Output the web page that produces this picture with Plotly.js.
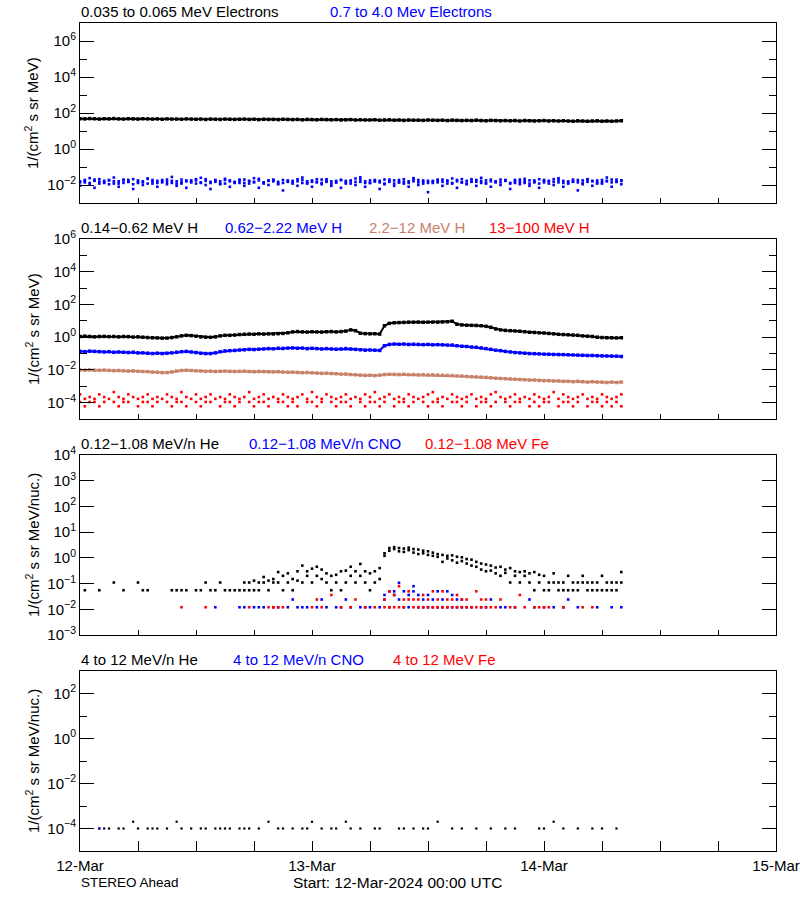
<!DOCTYPE html>
<html>
<head>
<meta charset="utf-8">
<script src="https://cdn.plot.ly/plotly-3.0.1.min.js"></script>
<style>html,body{margin:0;padding:0;background:#fff;}#chart{width:800px;height:900px;}</style>
</head>
<body>
<div id="chart"></div>
<script>
// ---- time grid: 30-minute samples starting 12-Mar-2024 00:00 UTC ----
const startTime = Date.UTC(2024, 2, 12, 0, 0, 0);
const stepMinutes = 30;
const rangeStart = '2024-03-12 00:00';
const rangeEnd = '2024-03-15 00:00';
const n = null;

// ---- Panel 1: electrons ----
const elecLow = [48,47,49,48,46,48,47,49,47,46,48,47,46,48,47,46,47,45,47,46,
 46,45,47,46,45,46,44,46,45,44,46,45,44,45,46,44,45,43,45,44,
 44,43,45,44,43,44,42,44,43,42,44,43,42,43,41,42,43,41,42,41,
 41,42,40,41,42,40,41,39,41,40,40,39,41,40,39,40,38,40,39,38,
 39,38,40,38,37,39,38,37,38,37,38,36,38,37,36,37,38,36,37,36,
 37,36,35,37,36,35,36,37,35,36,35,36,37];
const elecHighA = [0.016,0.019,0.013,0.017,0.021,0.014,0.018,0.012,0.016,0.02,
 0.015,0.011,0.018,0.014,0.022,0.016,0.013,0.019,0.015,0.017,
 0.012,0.02,0.016,0.014,0.018,0.013,0.021,0.015,0.017,0.012,
 0.019,0.016,0.014,0.02,0.013,0.017,0.015,0.022,0.014,0.018,
 0.016,0.012,0.019,0.015,0.017,0.021,0.013,0.016,0.018,0.014,
 0.02,0.015,0.012,0.017,0.019,0.014,0.016,0.023,0.015,0.013,
 0.018,0.016,0.014,0.02,0.017,0.012,0.019,0.015,0.016,0.021,
 0.014,0.018,0.013,0.017,0.02,0.015,0.016,0.012,0.019,0.014,
 0.017,0.021,0.015,0.013,0.018,0.016,0.014,0.02,0.017,0.013,
 0.019,0.015,0.016,0.012,0.018,0.021,0.014,0.017,0.015,0.019,
 0.013,0.016,0.02,0.014,0.018,0.015,0.017,0.012,0.019,0.016,
 0.014,0.02,0.017];
const elecHighB = [0.009,0.014,0.024,0.007,0.012,0.017,0.011,0.026,0.008,0.013,
 0.019,0.006,0.015,0.01,0.023,0.012,0.008,0.016,0.011,0.028,
 0.009,0.014,0.007,0.018,0.012,0.025,0.01,0.006,0.015,0.011,
 0.022,0.008,0.013,0.017,0.009,0.012,0.024,0.007,0.014,0.01,
 0.018,0.011,0.005,0.016,0.012,0.009,0.026,0.013,0.008,0.015,
 0.011,0.021,0.009,0.014,0.007,0.017,0.012,0.01,0.027,0.008,
 0.013,0.016,0.006,0.011,0.02,0.009,0.014,0.012,0.008,0.024,
 0.01,0.015,0.004,0.013,0.018,0.009,0.012,0.023,0.007,0.014,
 0.011,0.016,0.009,0.025,0.012,0.008,0.015,0.01,0.019,0.006,
 0.013,0.011,0.022,0.009,0.014,0.007,0.017,0.012,0.01,0.024,
 0.008,0.013,0.016,0.005,0.011,0.021,0.009,0.014,0.012,0.026,
 0.008,0.015,0.011];
const elecHighC = [0.014,0.017,0.011,0.02,0.015,0.013,0.019,0.016,0.012,0.018,
 0.015,0.021,0.013,0.016,0.012,0.019,0.017,0.014,0.02,0.013,
 0.016,0.012,0.018,0.015,0.021,0.014,0.017,0.013,0.019,0.016,
 0.012,0.018,0.015,0.013,0.02,0.016,0.014,0.018,0.012,0.017,
 0.02,0.015,0.013,0.018,0.014,0.016,0.019,0.012,0.015,0.021,
 0.013,0.017,0.016,0.014,0.019,0.012,0.018,0.015,0.02,0.016,
 0.013,0.019,0.017,0.012,0.015,0.018,0.014,0.021,0.013,0.016,
 0.019,0.012,0.017,0.015,0.014,0.02,0.018,0.013,0.016,0.021,
 0.012,0.015,0.019,0.017,0.013,0.02,0.016,0.014,0.018,0.012,
 0.016,0.02,0.013,0.018,0.015,0.012,0.019,0.016,0.021,0.014,
 0.017,0.012,0.015,0.019,0.013,0.02,0.016,0.018,0.014,0.017,
 0.02,0.015,0.018];

// ---- Panel 2: protons ----
const protonLow = [1.1,1.15,1.1,1.05,1.1,1.12,1.08,1.1,1.05,1.1,1.08,1.02,1.05,1.0,0.95,0.92,0.9,
 0.87,0.88,0.95,1.05, 1.2,1.3,1.25,1.15, 1.05,1.0,0.98,1.05, 1.2,1.3,1.3,1.35,
 1.45,1.5,1.55,1.5,1.6,1.55,1.6,1.58,1.65,1.7,1.85,
 2.1,2.2,2.1,2.05,2.15,2.1,2.05,2.15,2.2,2.1,2.2,2.35,
 2.8,2.5, 1.75,1.65,1.6,1.62,1.55, 5.0, 7.0,7.6,7.8,8.0,8.3,
 8.3,8.4,8.2,8.3,8.4,8.3,8.5,8.8, 9.4,6.2, 5.6,5.4,5.3,5.2,5.0,4.6,
 4.0,3.2,2.8, 2.6,2.5,2.4,2.3,2.15, 2.0,1.95,1.85,1.8,1.7,1.6,1.5,1.45,
 1.4,1.35,1.3,1.2,1.15,1.1, 1.0,0.95,0.93,0.92,0.9,0.93];
const protonMid = [0.14,0.13,0.14,0.135,0.13,0.125,0.13,0.12,0.125,0.12,0.115,0.12,0.11,0.11,0.105,0.1,0.105,
 0.1,0.105,0.11,0.12, 0.13,0.135,0.125,0.115, 0.105,0.1,0.1,0.11, 0.13,0.145,0.15,0.155,
 0.165,0.17,0.18,0.175,0.185,0.19,0.2,0.195,0.21,0.205,0.215,
 0.22,0.21,0.215,0.2,0.21,0.2,0.19,0.2,0.19,0.185,0.19,0.2,
 0.19,0.18, 0.17,0.16,0.165,0.16,0.155, 0.3, 0.36,0.38,0.37,0.38,0.36,
 0.37,0.36,0.35,0.36,0.34,0.35,0.34,0.33, 0.33,0.3, 0.28,0.27,0.25,0.24,0.22,0.2,
 0.18,0.16,0.15, 0.135,0.125,0.115,0.11,0.105, 0.1,0.098,0.095,0.092,0.09,0.088,0.087,0.086,
 0.084,0.082,0.08,0.078,0.076,0.076, 0.074,0.072,0.071,0.07,0.069,0.066];
const protonHigh = [0.0098,0.0095,0.01,0.0096,0.0094,0.0097,0.0093,0.009,0.0092,0.0088,0.0085,0.0087,0.0082,0.008,0.0078,0.0074,0.0072,
 0.0068,0.0069,0.0075,0.0085, 0.0092,0.0095,0.0092,0.0088, 0.0085,0.0082,0.0084,0.008, 0.0083,0.0085,0.0082,0.008,
 0.0082,0.0084,0.008,0.0078,0.0081,0.0079,0.0077,0.0076,0.0078,0.0074,0.0072,
 0.0073,0.007,0.0068,0.007,0.0066,0.0064,0.0062,0.0063,0.006,0.0058,0.0055,0.0056,
 0.0052,0.005, 0.0048,0.0046,0.0047,0.0045,0.0048, 0.0052,0.0054,0.0053,0.0052,0.0054,0.0051,
 0.0052,0.005,0.0051,0.0049,0.005,0.0048,0.0047,0.0046, 0.0045,0.0043,0.0042,0.004,0.0038,0.0037,0.0036,0.0035,
 0.0033,0.0031,0.003,0.0029,0.0028,0.0027,0.0026,0.0025, 0.0024,0.0024,0.0023,0.0022,0.0022,0.0021,0.0021,0.002,
 0.002,0.0019,0.002,0.0019,0.0018,0.0019, 0.0018,0.0018,0.0017,0.0018,0.0017,0.0018];
const protonTopA = [3.2e-4,1.7e-4,2.2e-4,1.7e-4,3.2e-4,2.2e-4,1.7e-4,4.4e-4,2.2e-4,1.7e-4,
 3.2e-4,2.2e-4,1.7e-4,2.2e-4,3.2e-4,1.7e-4,2.2e-4,1.7e-4,3.2e-4,2.2e-4,
 1.7e-4,4.4e-4,2.2e-4,1.7e-4,3.2e-4,1.7e-4,2.2e-4,3.2e-4,1.7e-4,2.2e-4,
 1.7e-4,3.2e-4,2.2e-4,1.7e-4,2.2e-4,4.4e-4,1.7e-4,2.2e-4,3.2e-4,1.7e-4,
 2.2e-4,1.7e-4,3.2e-4,2.2e-4,1.7e-4,2.2e-4,3.2e-4,1.7e-4,4.4e-4,2.2e-4,
 1.7e-4,3.2e-4,2.2e-4,1.7e-4,2.2e-4,3.2e-4,1.7e-4,2.2e-4,1.7e-4,3.2e-4,
 2.2e-4,4.4e-4,1.7e-4,2.2e-4,3.2e-4,1.7e-4,2.2e-4,1.7e-4,3.2e-4,2.2e-4,
 1.7e-4,2.2e-4,3.2e-4,4.4e-4,1.7e-4,2.2e-4,1.7e-4,3.2e-4,2.2e-4,1.7e-4,
 2.2e-4,3.2e-4,1.7e-4,2.2e-4,1.7e-4,3.2e-4,4.4e-4,2.2e-4,1.7e-4,2.2e-4,
 3.2e-4,1.7e-4,2.2e-4,1.7e-4,3.2e-4,2.2e-4,1.7e-4,2.2e-4,4.4e-4,1.7e-4,
 3.2e-4,2.2e-4,1.7e-4,2.2e-4,3.2e-4,1.7e-4,2.2e-4,1.7e-4,3.2e-4,2.2e-4,
 1.7e-4,2.2e-4,3.2e-4];
const protonTopB = [1.1e-4,6e-5,1.1e-4,1.1e-4,6e-5,1.1e-4,n,1.1e-4,6e-5,1.1e-4,
 1.1e-4,n,6e-5,1.1e-4,1.1e-4,6e-5,1.1e-4,n,1.1e-4,6e-5,
 1.1e-4,1.1e-4,6e-5,n,1.1e-4,6e-5,1.1e-4,1.1e-4,n,6e-5,
 1.1e-4,1.1e-4,6e-5,1.1e-4,n,1.1e-4,6e-5,1.1e-4,1.1e-4,6e-5,
 n,1.1e-4,1.1e-4,6e-5,1.1e-4,6e-5,n,1.1e-4,1.1e-4,6e-5,
 1.1e-4,n,1.1e-4,6e-5,1.1e-4,1.1e-4,6e-5,n,1.1e-4,6e-5,
 1.1e-4,1.1e-4,6e-5,1.1e-4,n,6e-5,1.1e-4,1.1e-4,6e-5,1.1e-4,
 n,1.1e-4,6e-5,1.1e-4,1.1e-4,6e-5,n,1.1e-4,1.1e-4,6e-5,
 1.1e-4,n,6e-5,1.1e-4,1.1e-4,6e-5,1.1e-4,n,1.1e-4,6e-5,
 1.1e-4,1.1e-4,n,6e-5,1.1e-4,6e-5,1.1e-4,1.1e-4,n,6e-5,
 1.1e-4,1.1e-4,6e-5,1.1e-4,n,6e-5,1.1e-4,1.1e-4,6e-5,1.1e-4,
 6e-5,1.1e-4,6e-5];

// ---- Panel 3: 0.12-1.08 MeV/n heavy ions ----
const heLowA = [n,0.055,n,n,0.055,n,n,0.11,n,0.055,
 n,n,0.11,0.055,0.055,n,n,n,n,0.055,
 0.055,0.055,0.055,n,0.055,0.055,0.11,0.055,0.055,0.11,
 0.055,0.055,0.055,0.055,0.055,0.11,0.13,0.11,0.18,0.13,
 0.15,0.28,0.2,0.25,0.15,0.3,0.5,0.3,0.38,0.45,
 0.35,0.25,0.2,0.22,0.3,0.32,0.45,0.3,0.58,0.3,
 0.25,0.3,0.4,1.5,2.4,2.6,2.4,2.3,2.5,2.2,
 2.1,1.9,1.8,1.6,1.4,1.3,1.2,1.25,1.1,1.05,
 0.9,0.85,0.7,0.6,0.55,0.5,0.42,0.45,0.35,0.4,
 0.3,0.28,0.3,0.25,0.28,0.22,0.2,0.11,0.25,0.11,
 0.11,0.2,0.11,0.11,0.2,0.11,0.11,0.11,0.2,0.11,
 0.11,0.11,0.11];
const heLowB = [n,n,n,n,n,n,n,n,n,n,
 n,n,n,n,n,n,n,n,n,n,
 n,n,n,n,n,n,n,n,n,n,
 n,n,n,n,0.11,0.055,0.055,0.055,0.11,0.055,
 0.11,0.11,0.055,0.11,0.055,0.13,0.11,0.2,0.11,0.2,
 0.15,0.11,0.055,0.11,0.055,0.11,0.2,0.11,0.2,0.11,
 0.055,0.11,0.15,1.2,1.9,2.2,1.8,1.7,2.0,1.6,
 1.4,1.5,1.3,1.2,1.1,0.7,0.95,0.8,0.65,0.75,
 0.6,0.5,0.45,0.35,0.3,0.32,0.25,0.2,0.26,0.11,
 0.2,0.11,0.2,0.11,0.055,0.11,0.055,0.055,0.11,0.055,
 0.055,0.055,0.055,0.055,0.11,0.055,0.055,0.055,0.055,0.055,
 0.055,0.055,0.28];
const cnoLowA = [n,n,n,n,n,n,n,n,n,n,
 n,n,n,n,n,n,n,n,n,n,
 n,n,n,n,n,n,n,n,0.012,n,
 n,n,n,0.012,0.012,n,0.012,0.012,0.012,n,
 0.012,0.012,n,0.012,0.024,0.012,0.012,0.012,n,0.012,
 0.024,0.012,n,0.012,0.012,0.024,0.012,n,0.012,0.012,
 0.012,n,0.012,0.036,0.05,0.036,0.107,0.05,0.036,0.079,
 0.036,0.024,0.012,0.024,0.012,0.024,0.05,0.036,0.024,0.012,
 0.012,0.012,n,0.012,0.012,0.024,n,0.012,0.012,n,
 0.012,n,n,0.024,0.012,n,0.012,n,0.012,n,
 0.012,0.024,n,0.012,n,n,n,0.012,n,n,
 0.012,n,0.012];
const cnoLowB = [n,n,n,n,n,n,n,n,n,n,
 n,n,n,n,n,n,n,n,n,n,
 n,n,n,n,n,n,n,n,n,n,
 n,n,n,n,n,n,n,n,n,n,
 n,n,n,n,n,n,n,n,n,n,
 n,n,n,n,n,n,n,n,n,n,
 n,n,n,0.024,0.012,0.05,0.024,0.012,0.012,0.05,
 0.012,0.012,0.036,0.012,0.05,0.012,0.012,0.012,0.012,0.024];
const feLowA = [n,n,n,n,n,n,n,n,n,n,
 n,n,n,n,n,n,n,n,n,n,
 n,0.012,n,n,n,n,0.012,n,n,n,
 n,n,n,n,n,0.012,n,n,n,0.012,
 0.012,0.012,0.012,n,n,n,n,n,0.012,0.024,
 0.012,n,0.036,n,0.012,n,0.012,0.024,n,0.012,
 n,0.012,n,0.024,0.05,0.012,0.079,0.024,0.05,0.012,
 0.024,0.036,0.012,0.05,0.024,0.012,0.024,0.012,0.036,0.024,
 0.012,0.012,0.05,0.012,0.024,0.012,0.012,0.024,n,0.012,
 0.012,0.036,0.012,n,0.012,0.012,0.012,0.012,n,n,
 0.012,n,n,n,0.012,n,0.012];
const feLowB = [n,n,n,n,n,n,n,n,n,n,
 n,n,n,n,n,n,n,n,n,n,
 n,n,n,n,n,n,n,n,n,n,
 n,n,n,n,n,n,n,n,n,n,
 n,n,n,n,n,n,n,n,n,n,
 n,n,n,n,n,n,n,n,n,n,
 n,n,n,0.012,0.012,0.036,0.012,0.012,0.024,0.024,
 0.012,0.012,0.024,0.012,0.012,0.05,0.012,0.024,0.012,0.012,
 0.024,n,0.012,0.024,0.012];

// ---- Panel 4: 4-12 MeV/n heavy ions ----
const heHigh = [n,n,n,n,1e-4,1e-4,1e-4,n,1e-4,1e-4,
 n,2e-4,1e-4,n,1e-4,1e-4,1e-4,n,1e-4,n,
 2e-4,1e-4,n,1e-4,n,1e-4,1e-4,n,1e-4,1e-4,
 1e-4,1e-4,n,1e-4,1e-4,1e-4,n,1e-4,n,2e-4,
 n,1e-4,1e-4,n,1e-4,n,1e-4,1e-4,2e-4,n,
 1e-4,n,1e-4,1e-4,n,2e-4,1e-4,n,1e-4,n,
 n,1e-4,1e-4,n,n,n,1e-4,1e-4,n,1e-4,
 n,1e-4,1e-4,n,2e-4,n,n,1e-4,n,1e-4,
 n,n,1e-4,n,n,1e-4,n,n,1e-4,n,
 1e-4,n,n,n,n,1e-4,1e-4,n,2e-4,n,
 1e-4,n,n,1e-4,n,n,1e-4,n,1e-4,n,
 n,1e-4,n];
const cnoHigh = [n,n,n,n,1e-4];
const feHigh = [];

// ---- tick labels ----
const tickVals1 = [1e-2, 1, 1e2, 1e4, 1e6];
const tickText1 = ['10<sup>−2</sup>','10<sup>0</sup>','10<sup>2</sup>','10<sup>4</sup>','10<sup>6</sup>'];
const minorVals1 = [1e-1, 1e1, 1e3, 1e5];
const tickVals2 = [1e-4, 1e-2, 1, 1e2, 1e4, 1e6];
const tickText2 = ['10<sup>−4</sup>','10<sup>−2</sup>','10<sup>0</sup>','10<sup>2</sup>','10<sup>4</sup>','10<sup>6</sup>'];
const minorVals2 = [1e-3, 1e-1, 1e1, 1e3, 1e5];
const tickVals3 = [1e-3, 1e-2, 1e-1, 1, 1e1, 1e2, 1e3, 1e4];
const tickText3 = ['10<sup>−3</sup>','10<sup>−2</sup>','10<sup>−1</sup>','10<sup>0</sup>','10<sup>1</sup>','10<sup>2</sup>','10<sup>3</sup>','10<sup>4</sup>'];
const tickVals4 = [1e-4, 1e-2, 1, 1e2];
const tickText4 = ['10<sup>−4</sup>','10<sup>−2</sup>','10<sup>0</sup>','10<sup>2</sup>'];
const minorVals4 = [1e-3, 1e-1, 1e1];

// ---- colours ----
const BLACK = '#000000', BLUE = '#0000ff', BROWN = '#c8826a', RED = '#ff0000';
const FONT = 'Liberation Sans, Arial, sans-serif';

function timesFor(vals) { return vals.map((v, i) => startTime + i * stepMinutes * 60000); }
function axisRef(k) { return k === 1 ? '' : String(k); }
function lineTrace(vals, color, k) {
  return {x: timesFor(vals), y: vals, type: 'scatter', mode: 'lines+markers', connectgaps: false,
    line: {color: color, width: 2},
    marker: {color: color, size: 3.5, symbol: 'square', line: {width: 0}},
    xaxis: 'x' + axisRef(k), yaxis: 'y' + axisRef(k), hoverinfo: 'skip'};
}
function dotTrace(vals, color, k, size) {
  return {x: timesFor(vals), y: vals, type: 'scatter', mode: 'markers',
    marker: {color: color, size: size || 2.6, symbol: 'square', line: {width: 0}},
    xaxis: 'x' + axisRef(k), yaxis: 'y' + axisRef(k), hoverinfo: 'skip'};
}

const data = [
  lineTrace(elecLow, BLACK, 1),
  dotTrace(elecHighA, BLUE, 1), dotTrace(elecHighB, BLUE, 1), dotTrace(elecHighC, BLUE, 1),
  lineTrace(protonLow, BLACK, 2), lineTrace(protonMid, BLUE, 2), lineTrace(protonHigh, BROWN, 2),
  dotTrace(protonTopA, RED, 2), dotTrace(protonTopB, RED, 2),
  dotTrace(heLowA, BLACK, 3), dotTrace(heLowB, BLACK, 3),
  dotTrace(cnoLowA, BLUE, 3), dotTrace(cnoLowB, BLUE, 3),
  dotTrace(feLowA, RED, 3), dotTrace(feLowB, RED, 3),
  dotTrace(heHigh, BLACK, 4, 2.2), dotTrace(cnoHigh, BLUE, 4, 2.2), dotTrace(feHigh, RED, 4, 2.2)
];

const H = 828;
const domains = [[648/H, 1], [432/H, 612/H], [216/H, 396/H], [0, 180/H]];
const yRanges = [[-3, 7], [-5, 6], [-3, 4], [-5, 3]];
const tickSets = [[tickVals1, tickText1, minorVals1], [tickVals2, tickText2, minorVals2], [tickVals3, tickText3, []], [tickVals4, tickText4, minorVals4]];

const layout = {
  width: 800, height: 900,
  margin: {l: 80, r: 24, t: 23, b: 49},
  paper_bgcolor: '#ffffff', plot_bgcolor: '#ffffff',
  showlegend: false,
  font: {family: FONT, size: 14, color: BLACK},
  annotations: []
};

for (let k = 1; k <= 4; k++) {
  const sfx = axisRef(k);
  const ts = tickSets[k - 1];
  layout['yaxis' + sfx] = {
    domain: domains[k - 1], anchor: 'x' + sfx, type: 'log', range: yRanges[k - 1],
    tickmode: 'array', tickvals: ts[0], ticktext: ts[1],
    ticks: 'inside', ticklen: 14, tickwidth: 1, tickcolor: BLACK,
    minor: {tickmode: 'array', tickvals: ts[2], ticks: 'inside', ticklen: 7, tickwidth: 1, tickcolor: BLACK, showgrid: false},
    showline: true, linecolor: BLACK, linewidth: 1, mirror: 'ticks',
    showgrid: false, zeroline: false, tickfont: {size: 15, family: FONT}, ticklabelstandoff: 0
  };
  layout['xaxis' + sfx] = {
    domain: [0, 1], anchor: 'y' + sfx, type: 'date', range: [rangeStart, rangeEnd],
    tickmode: 'linear', tick0: rangeStart, dtick: 86400000, tickformat: '%d-%b',
    ticks: 'inside', ticklen: k === 4 ? 10 : 5, tickwidth: 1, tickcolor: BLACK,
    minor: {tick0: rangeStart, dtick: 21600000, ticks: 'inside', ticklen: k === 4 ? 10 : 5, tickwidth: 1, tickcolor: BLACK, showgrid: false},
    showline: true, linecolor: BLACK, linewidth: 1, mirror: true,
    showgrid: false, zeroline: false, showticklabels: k === 4,
    tickfont: {size: 15, family: FONT}, ticklabelstandoff: 1
  };
  layout['xaxis' + (k + 4)] = {
    overlaying: 'x' + sfx, anchor: 'y' + sfx, side: 'top', type: 'date', range: [rangeStart, rangeEnd],
    tickmode: 'linear', tick0: rangeStart, dtick: 21600000,
    ticks: 'inside', ticklen: 4, tickwidth: 1, tickcolor: BLACK,
    showline: false, showgrid: false, zeroline: false, showticklabels: false
  };
}

// panel labels (coloured series names above each panel)
const panelLabels = [
  [['0.035 to 0.065 MeV Electrons', 80, BLACK], ['0.7 to 4.0 Mev Electrons', 329, BLUE]],
  [['0.14−0.62 MeV H', 80, BLACK], ['0.62−2.22 MeV H', 224, BLUE], ['2.2−12 MeV H', 368, BROWN], ['13−100 MeV H', 488, RED]],
  [['0.12−1.08 MeV/n He', 80, BLACK], ['0.12−1.08 MeV/n CNO', 248, BLUE], ['0.12−1.08 MeV Fe', 424, RED]],
  [['4 to 12 MeV/n He', 80, BLACK], ['4 to 12 MeV/n CNO', 232, BLUE], ['4 to 12 MeV Fe', 392, RED]]
];
const yTitles = ['1/(cm<sup>2</sup> s sr MeV)', '1/(cm<sup>2</sup> s sr MeV)',
  '1/(cm<sup>2</sup> s sr MeV/nuc.)', '1/(cm<sup>2</sup> s sr MeV/nuc.)'];

for (let k = 1; k <= 4; k++) {
  const sfx = axisRef(k);
  panelLabels[k - 1].forEach(function (p) {
    layout.annotations.push({
      text: p[0], xref: 'paper', x: (p[1] - 80) / 696 - 0.002, xanchor: 'left',
      yref: 'y' + sfx + ' domain', y: 1, yanchor: 'bottom', yshift: 1,
      showarrow: false, font: {size: 15, color: p[2], family: FONT}
    });
  });
  layout.annotations.push({
    text: yTitles[k - 1], textangle: -90, xref: 'paper', x: (32 - 80) / 696, xanchor: 'center',
    yref: 'y' + sfx + ' domain', y: 0.5, yanchor: 'middle',
    showarrow: false, font: {size: 15, color: BLACK, family: FONT}
  });
}
layout.annotations.push({text: 'STEREO Ahead', xref: 'paper', x: -0.002, xanchor: 'left',
  yref: 'paper', y: -31 / H, yanchor: 'middle', showarrow: false, font: {size: 13.5, family: FONT}});
layout.annotations.push({text: 'Start: 12-Mar-2024 00:00 UTC', xref: 'paper', x: (291 - 80) / 696, xanchor: 'left',
  yref: 'paper', y: -31 / H, yanchor: 'middle', showarrow: false, font: {size: 15.5, family: FONT}});

Plotly.newPlot('chart', data, layout, {staticPlot: true, displayModeBar: false});
</script>
</body>
</html>
